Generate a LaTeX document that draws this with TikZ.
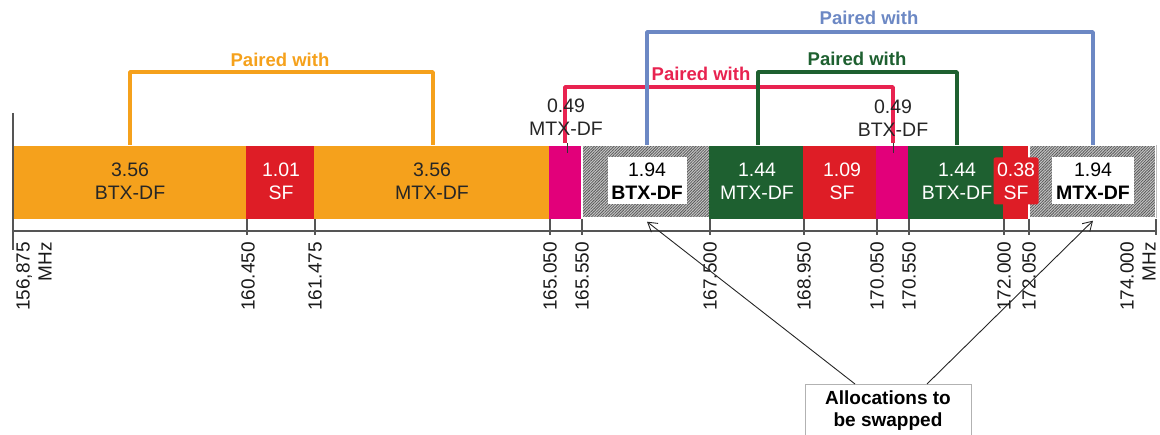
\documentclass[tikz,border=0pt]{standalone}
\usepackage{fontspec}
\setmainfont{Liberation Sans}
\usetikzlibrary{arrows.meta,patterns.meta}

\definecolor{bandorange}{RGB}{245,161,28}
\definecolor{sfred}{RGB}{222,29,38}
\definecolor{bandmagenta}{RGB}{226,0,122}
\definecolor{bandgreen}{RGB}{30,96,48}
\definecolor{pairred}{RGB}{232,35,80}
\definecolor{pairblue}{RGB}{108,136,196}
\definecolor{axisgray}{RGB}{85,85,85}

\begin{document}
\begin{tikzpicture}[x=1pt,y=-1pt,>={Straight Barb[length=9pt,width=11pt]},
    seg/.style={draw=white,line width=1.2pt},
    hatch/.style={seg,pattern={Lines[angle=45,distance=2pt,line width=0.8pt]},pattern color=black!65},
    segtxt/.style={font=\fontsize{19.5}{23}\selectfont,align=center,inner sep=0pt},
    swapbox/.style={segtxt,fill=white,minimum height=47pt},
    freq/.style={font=\fontsize{19}{22}\selectfont,rotate=90,anchor=east,align=right,inner sep=0pt,text=black!90},
    pair/.style={line width=3.5pt,line join=round},
    pairlbl/.style={font=\bfseries\fontsize{18.5}{21}\selectfont,inner sep=0pt}]
    \useasboundingbox (0,0) rectangle (1160,435);

    % Draw band segments
    \fill[seg,bandorange] (13,145) rectangle (247,218);
    \fill[seg,sfred] (247,145) rectangle (315,218);
    \fill[seg,bandorange] (315,145) rectangle (550,218);
    \fill[seg,bandmagenta] (550,145) rectangle (582,218);
    \fill[seg,black!22] (582,145) rectangle (710,218);
    \fill[hatch] (582,145) rectangle (710,218);
    \fill[seg,bandgreen] (710,145) rectangle (804,218);
    \fill[seg,sfred] (804,145) rectangle (877,218);
    \fill[seg,bandmagenta] (877,145) rectangle (909,218);
    \fill[seg,bandgreen] (909,145) rectangle (1004,218);
    \fill[seg,sfred] (1004,145) rectangle (1029,218);
    \fill[seg,black!22] (1029,145) rectangle (1156,218);
    \fill[hatch] (1029,145) rectangle (1156,218);
    \draw[seg] (13,145) -- (1156,145);
    \draw[black!25] (1156,145) -- (1156,218);

    % Segment labels
    \node[segtxt,text=black!85] (btxa) at (130,181) {3.56\\BTX-DF};
    \node[segtxt,text=white] (sfa) at (281,181) {1.01\\SF};
    \node[segtxt,text=black!85] (mtxa) at (432,181) {3.56\\MTX-DF};
    \node[swapbox,minimum width=79pt] (btxb) at (647,181) {1.94\\\textbf{BTX-DF}};
    \node[segtxt,text=white] (mtxc) at (757,181) {1.44\\MTX-DF};
    \node[segtxt,text=white] (sfb) at (842,181) {1.09\\SF};
    \node[segtxt,text=white] (btxc) at (957,181) {1.44\\BTX-DF};
    \node[segtxt,text=white,fill=sfred,rounded corners=2pt,minimum width=45pt,minimum height=47pt] (sfc) at (1016,181) {0.38\\SF};
    \node[swapbox,minimum width=82pt] (mtxb) at (1093,181) {1.94\\\textbf{MTX-DF}};

    % Bracket feet on top of the band
    \coordinate (obtx) at (130,145);
    \coordinate (omtx) at (433,145);
    \coordinate (rmtx) at (565,143);
    \coordinate (rbtx) at (893,143);
    \coordinate (bbtx) at (647,145);
    \coordinate (bmtx) at (1093,145);
    \coordinate (gmtx) at (758,145);
    \coordinate (gbtx) at (957,145);

    % Draw pairing brackets
    \draw[pair,bandorange] (obtx) -- ++(0,-73) -| (omtx);
    \node[pairlbl,text=bandorange] (olbl) at (280,60) {Paired with};
    \draw[pair,pairred] (rmtx) -- ++(0,-56) -| (rbtx);
    \node[pairlbl,text=pairred] (rlbl) at (701,74) {Paired with};
    \draw[pair,pairblue] (bbtx) -- ++(0,-113) -| (bmtx);
    \node[pairlbl,text=pairblue] (blbl) at (869,18) {Paired with};
    \draw[pair,bandgreen] (gmtx) -- ++(0,-73) -| (gbtx);
    \node[pairlbl,text=bandgreen] (glbl) at (857,59) {Paired with};

    % Small guard band labels
    \node[segtxt,text=black!85] (gmtxl) at (566,117) {0.49\\MTX-DF};
    \node[segtxt,text=black!85] (gbtxl) at (893,118) {0.49\\BTX-DF};
    \draw[black!80] (567,143) -- (567,153);
    \draw[black!80] (893,143) -- (893,153);

    % Draw frequency axis
    \draw[axisgray,line width=1.3pt] (13,113) -- (13,250);
    \draw[axisgray,line width=1.3pt] (13,231) -- (1157,231);
    \draw[axisgray,line width=1.3pt] (247,219) -- (247,235);
    \draw[axisgray,line width=1.3pt] (315,219) -- (315,235);
    \draw[axisgray,line width=1.3pt] (550,219) -- (550,235);
    \draw[axisgray,line width=1.3pt] (582,219) -- (582,235);
    \draw[axisgray,line width=1.3pt] (710,219) -- (710,235);
    \draw[axisgray,line width=1.3pt] (804,219) -- (804,235);
    \draw[axisgray,line width=1.3pt] (877,219) -- (877,235);
    \draw[axisgray,line width=1.3pt] (909,219) -- (909,235);
    \draw[axisgray,line width=1.3pt] (1004,219) -- (1004,235);
    \draw[axisgray,line width=1.3pt] (1029,219) -- (1029,235);
    \draw[axisgray,line width=1.3pt] (1156,219) -- (1156,235);

    % Frequency labels
    \node[freq] (f0) at (34,242) {156,875\\MHz};
    \node[freq] (f1) at (248,242) {160.450};
    \node[freq] (f2) at (315,242) {161.475};
    \node[freq] (f3) at (550,242) {165.050};
    \node[freq] (f4) at (582,242) {165.550};
    \node[freq] (f5) at (710,242) {167.500};
    \node[freq] (f6) at (804,242) {168.950};
    \node[freq] (f7) at (877,242) {170.050};
    \node[freq] (f8) at (909,242) {170.550};
    \node[freq] (f9) at (1004,242) {172.000};
    \node[freq] (f10) at (1029,242) {172.050};
    \node[freq] (f11) at (1138,242) {174.000\\MHz};

    % Allocations to be swapped
    \node[font=\bfseries\fontsize{19}{22}\selectfont,align=center,anchor=north,draw=black!30,fill=white,
          minimum width=166pt,inner ysep=7pt] (swap) at (888,384) {Allocations to\\be swapped};
    \draw[->,black!85,line width=0.9pt] ([xshift=-33pt]swap.north) -- ([yshift=-17pt]btxb.south);
    \draw[->,black!85,line width=0.9pt] ([xshift=39pt]swap.north) -- ([yshift=-16pt]mtxb.south);
\end{tikzpicture}
\end{document}
